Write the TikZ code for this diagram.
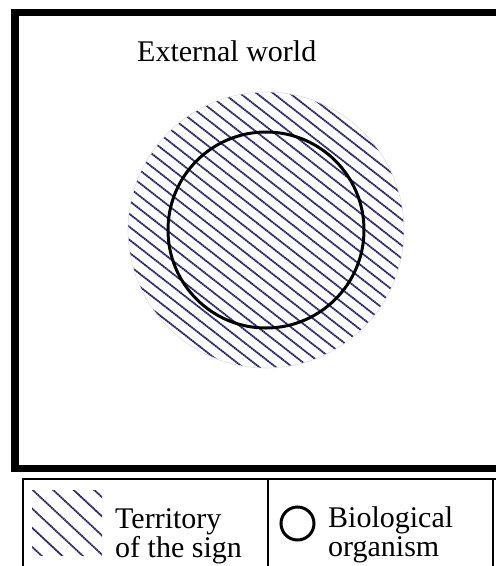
\documentclass[tikz,border=0pt]{standalone}
\usepackage{fontspec}
\setmainfont{Liberation Serif}
\definecolor{hatchblue}{RGB}{40,34,105}
\begin{document}
\begin{tikzpicture}[x=1pt, y=-1pt,
    hatch/.style={hatchblue, line width=1.8pt, dash pattern=on 1.8pt off 0.5pt},
    label/.style={inner sep=0pt, anchor=base west, align=left,
                  font=\fontsize{30}{29}\selectfont}]
  \useasboundingbox (0,0) rectangle (496,566);
  \clip (0,0) rectangle (496,566);
  % frame of the external world
  \draw[line width=7.5pt] (15,12.5) rectangle (530,468.5);
  \node[label] (world) at (137,61) {External world};
  % territory of the sign
  \begin{scope}
    \clip (266,230) circle (138pt);
    \begin{scope}[shift={(266,230)}, rotate=-38]
      \foreach \k in {-14,...,14}
        \draw[hatch] (-160,{\k*10.2}) -- (160,{\k*10.2});
    \end{scope}
  \end{scope}
  \draw[black!12, line width=0.6pt] (266,230) circle (138pt);
  % biological organism
  \draw[line width=3pt] (266,230) circle (98pt);
  % legend
  \draw[line width=1.5pt] (23,600) -- (23,479) -- (520,479);
  \draw[line width=1.5pt] (268,479) -- (268,600);
  \draw[line width=1.5pt] (493,479) -- (493,600);
  \begin{scope}
    \clip (32,490) rectangle (102,555);
    \begin{scope}[shift={(67,522)}, rotate=-43]
      \foreach \k in {-4,...,4}
        \draw[hatch] (-70,{\k*14}) -- (70,{\k*14});
    \end{scope}
  \end{scope}
  \node[label] (sign) at (115,557) {Territory\\of the sign};
  \draw[line width=3pt] (297.5,523.5) circle (16.5pt);
  \node[label] (organism) at (328,556) {Biological\\organism};
\end{tikzpicture}
\end{document}
